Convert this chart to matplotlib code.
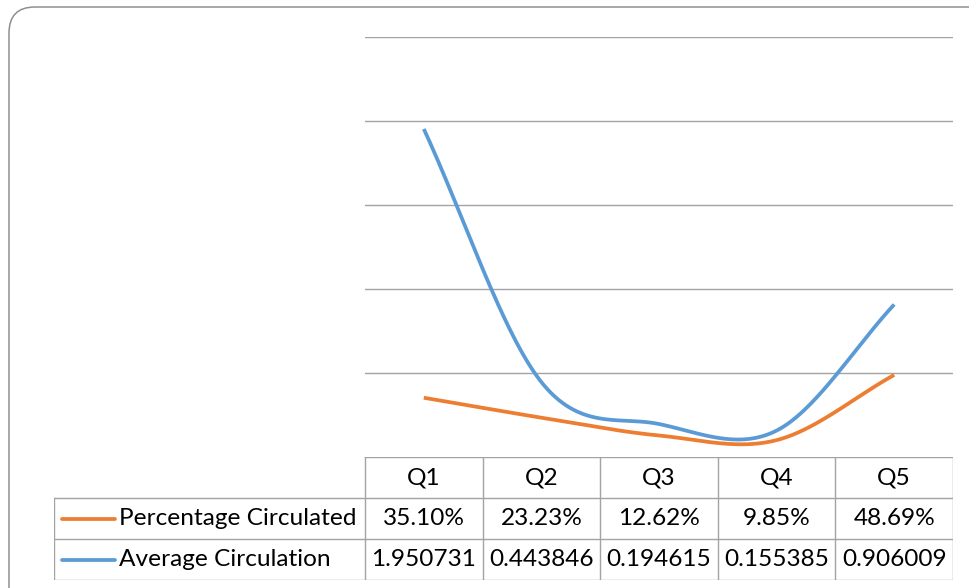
import numpy as np
import matplotlib
matplotlib.use("Agg")
import matplotlib.pyplot as plt
from matplotlib.patches import FancyBboxPatch

# ---------------------------------------------------------------------------
# Data
# ---------------------------------------------------------------------------
categories = ["Q1", "Q2", "Q3", "Q4", "Q5"]
pct_circulated = [0.3510, 0.2323, 0.1262, 0.0985, 0.4869]
avg_circulation = [1.950731, 0.443846, 0.194615, 0.155385, 0.906009]
series_names = ["Percentage Circulated", "Average Circulation"]

ORANGE = "#ED7D31"
BLUE = "#5B9BD5"
GRID = "#a3a3a3"
FONT = "Lato"


def smooth(values, n=60):
    """Excel-like smoothed line (cubic Hermite / Catmull-Rom)."""
    y = np.asarray(values, dtype=float)
    k = len(y)
    m = np.zeros(k)
    m[1:-1] = (y[2:] - y[:-2]) / 2.0
    m[0] = y[1] - y[0]
    m[-1] = y[-1] - y[-2]
    xs, ys = [], []
    for i in range(k - 1):
        t = np.linspace(0, 1, n, endpoint=(i == k - 2))
        h00 = 2 * t**3 - 3 * t**2 + 1
        h10 = t**3 - 2 * t**2 + t
        h01 = -2 * t**3 + 3 * t**2
        h11 = t**3 - t**2
        xs.append(i + t)
        ys.append(h00 * y[i] + h10 * m[i] + h01 * y[i + 1] + h11 * m[i + 1])
    return np.concatenate(xs), np.concatenate(ys)


fig = plt.figure(figsize=(9.7, 5.88), dpi=100)

# outer rounded chart border (in inches, 100 px per inch)
border = FancyBboxPatch(
    (0.09, -1.0), 10.1, 6.81,
    boxstyle="round,pad=0,rounding_size=0.26",
    transform=fig.dpi_scale_trans,
    facecolor="none", edgecolor="#8f8f8f", linewidth=1.1,
)
fig.patches.append(border)

# --- plot area ---
W, H = 970.0, 588.0
ax = fig.add_axes([365 / W, (H - 456.7) / H, 588 / W, 420 / H])
ax.set_xlim(-0.5, len(categories) - 0.5)
ax.set_ylim(0, 2.5)
for yv in np.arange(0.5, 2.51, 0.5):
    ax.axhline(yv, color=GRID, linewidth=1.0, zorder=1)
for s in ax.spines.values():
    s.set_visible(False)
ax.set_xticks([])
ax.set_yticks([])

for vals, col in [(pct_circulated, ORANGE), (avg_circulation, BLUE)]:
    sx, sy = smooth(vals)
    ax.plot(sx, sy, color=col, linewidth=2.7, solid_capstyle="butt", zorder=3)

# --- data table ---
left_px = 54
col_w = 588 / 5
x_left = -0.5 - (365 - left_px) / col_w
tax = fig.add_axes([left_px / W, (H - 580) / H, (953 - left_px) / W, 123 / H])
tax.set_xlim(x_left, len(categories) - 0.5)
tax.set_ylim(3, 0)
tax.axis("off")

n = len(categories)
lkw = dict(color=GRID, linewidth=1.0, solid_capstyle="projecting")
tax.plot([-0.5, n - 0.5], [0, 0], **lkw)
for r in (1, 2, 3):
    tax.plot([x_left, n - 0.5], [r, r], **lkw)
for c in range(n + 1):
    tax.plot([c - 0.5, c - 0.5], [0, 3], **lkw)
tax.plot([x_left, x_left], [1, 3], **lkw)

fs = 17.6
tkw = dict(va="center", fontsize=fs, family=FONT, color="black")
for i, cat in enumerate(categories):
    tax.text(i, 0.5, cat, ha="center", **tkw)
    tax.text(i, 1.5, f"{pct_circulated[i] * 100:.2f}%", ha="center", **tkw)
    tax.text(i, 2.5, f"{avg_circulation[i]:.6f}", ha="center", **tkw)

key_x0 = x_left + 8 / col_w
key_x1 = x_left + 61 / col_w
txt_x = x_left + 65 / col_w
for row, name, col in [(1.5, series_names[0], ORANGE), (2.5, series_names[1], BLUE)]:
    tax.plot([key_x0, key_x1], [row, row], color=col, linewidth=2.7,
             solid_capstyle="round")
    tax.text(txt_x, row, name, ha="left", **tkw)

fig.savefig("out.png", dpi=100)
